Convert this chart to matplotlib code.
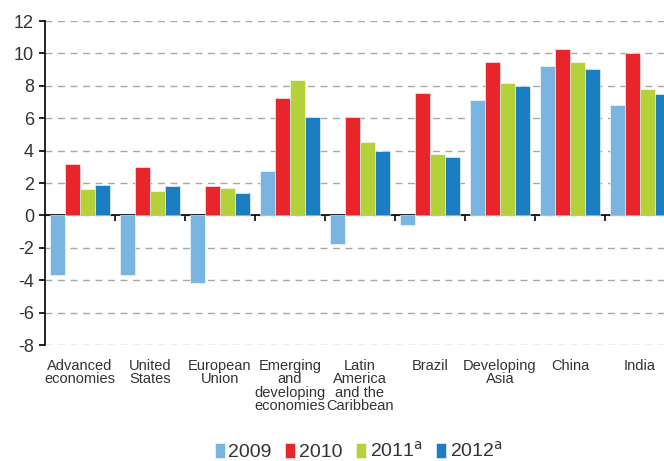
import numpy as np
import matplotlib.pyplot as plt
from matplotlib.transforms import blended_transform_factory

# data (annual % change)
categories = ["Advanced\neconomies", "United\nStates", "European\nUnion",
              "Emerging\nand\ndeveloping\neconomies", "Latin\nAmerica\nand the\nCaribbean",
              "Brazil", "Developing\nAsia", "China", "India"]
years = ["2009", "2010", "2011$^{\\mathrm{a}}$", "2012$^{\\mathrm{a}}$"]
v2009 = [-3.7, -3.7, -4.2, 2.75, -1.75, -0.6, 7.15, 9.2, 6.8]
v2010 = [3.15, 3.0, 1.8, 7.25, 6.1, 7.55, 9.5, 10.25, 10.05]
v2011 = [1.6, 1.5, 1.7, 8.35, 4.55, 3.8, 8.2, 9.5, 7.8]
v2012 = [1.9, 1.8, 1.4, 6.1, 3.95, 3.6, 8.0, 9.05, 7.5]
colors = ["#7ab4e0", "#e8252a", "#b5d13a", "#1b7dc2"]

plt.rcParams['font.family'] = ['Liberation Sans', 'DejaVu Sans']
plt.rcParams['axes.unicode_minus'] = False

fig = plt.figure(figsize=(6.64, 4.61), dpi=100)
ax = fig.add_axes([45 / 664, 1 - 345 / 461, 1 - 45 / 664, (345 - 21) / 461])

x = np.arange(len(categories))
w = 0.215
series = [v2009, v2010, v2011, v2012]
for i, vals in enumerate(series):
    ax.bar(x + (i - 1.5) * w, vals, w, color=colors[i], label=years[i],
           edgecolor="white", linewidth=0.4, zorder=3)

ax.set_xlim(-0.5, (664 - 80) / 70)
ax.set_ylim(-8, 12)
ax.set_yticks(range(-8, 13, 2))
ax.yaxis.grid(True, linestyle=(0, (5, 4)), color="#a8a8a8", linewidth=1, zorder=0)
ax.set_axisbelow(True)

for s in ["top", "right"]:
    ax.spines[s].set_visible(False)
ax.spines["bottom"].set_position(("data", 0))
ax.spines["left"].set_linewidth(1.2)
ax.spines["bottom"].set_linewidth(1.2)
ax.set_xticks(np.arange(0.5, len(categories) - 0.5, 1))
ax.tick_params(axis="x", direction="out", length=4, width=1.2, labelbottom=False)
ax.tick_params(axis="y", direction="out", length=4, width=1.2, labelsize=13,
               colors="black", labelcolor="#333333", pad=4)

trans = blended_transform_factory(ax.transData, ax.transAxes)
for xi, name in zip(x, categories):
    ax.text(xi, -0.042, name, transform=trans, ha="center", va="top",
            fontsize=10.5, color="#333333", linespacing=0.95)

ax.legend(loc="lower center", bbox_to_anchor=(0.54, -0.038),
          bbox_transform=fig.transFigure, ncol=4, frameon=False,
          handlelength=0.5, handleheight=0.8, handletextpad=0.2,
          columnspacing=0.7, fontsize=14, labelcolor="#333333")

fig.savefig("out.png", dpi=100)
